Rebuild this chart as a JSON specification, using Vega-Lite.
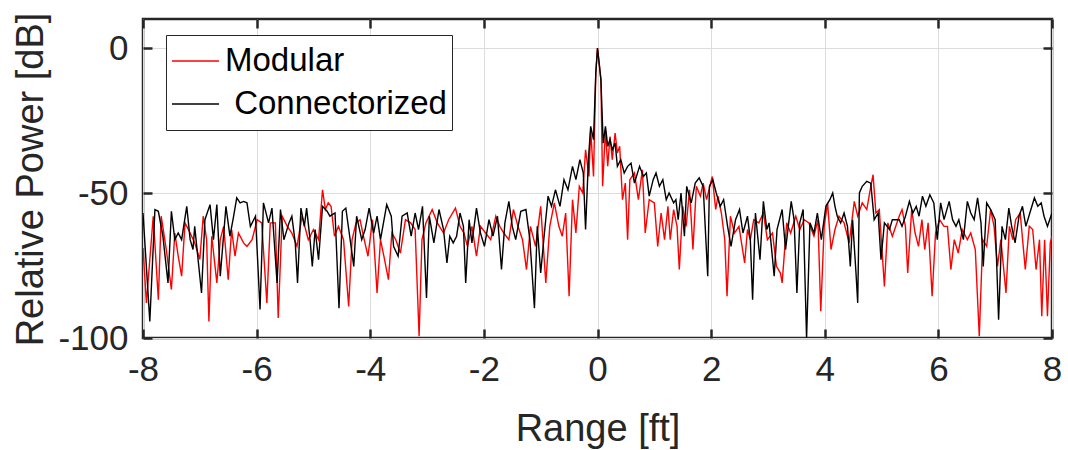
{
 "$schema": "https://vega.github.io/schema/vega-lite/v6.json",
 "width": 909,
 "height": 319,
 "autosize": "none",
 "padding": {"left": 143, "top": 19, "right": 16, "bottom": 112},
 "background": "white",
 "config": {
  "view": {"stroke": "#262626", "strokeWidth": 2.5},
  "font": "Liberation Sans",
  "axis": {"domain": false, "gridColor": "#dcdcdc", "gridWidth": 1, "tickColor": "#262626", "tickWidth": 2.5, "tickSize": -9, "labelColor": "#262626", "titleColor": "#262626", "labelFont": "Liberation Sans", "titleFont": "Liberation Sans", "labelFontSize": 35, "titleFontSize": 38, "titleFontWeight": "normal"}
 },
 "datasets": {
  "spectra": [
   {"series":"Modular","range":-8.00,"power":-69.0},{"series":"Modular","range":-7.94,"power":-87.9},{"series":"Modular","range":-7.82,"power":-58.0},{"series":"Modular","range":-7.73,"power":-86.8},{"series":"Modular","range":-7.68,"power":-58.0},{"series":"Modular","range":-7.59,"power":-69.5},{"series":"Modular","range":-7.50,"power":-83.3},{"series":"Modular","range":-7.44,"power":-63.8},{"series":"Modular","range":-7.38,"power":-71.8},{"series":"Modular","range":-7.32,"power":-78.7},{"series":"Modular","range":-7.26,"power":-60.3},{"series":"Modular","range":-7.17,"power":-63.8},{"series":"Modular","range":-7.09,"power":-67.2},{"series":"Modular","range":-7.00,"power":-72.9},{"series":"Modular","range":-6.94,"power":-58.0},{"series":"Modular","range":-6.88,"power":-66.1},{"series":"Modular","range":-6.84,"power":-94.3},{"series":"Modular","range":-6.79,"power":-64.9},{"series":"Modular","range":-6.70,"power":-81.0},{"series":"Modular","range":-6.64,"power":-66.1},{"series":"Modular","range":-6.58,"power":-61.5},{"series":"Modular","range":-6.50,"power":-79.9},{"series":"Modular","range":-6.44,"power":-62.6},{"series":"Modular","range":-6.38,"power":-71.8},{"series":"Modular","range":-6.32,"power":-63.8},{"series":"Modular","range":-6.23,"power":-67.2},{"series":"Modular","range":-6.17,"power":-68.4},{"series":"Modular","range":-6.08,"power":-66.1},{"series":"Modular","range":-5.99,"power":-59.2},{"series":"Modular","range":-5.91,"power":-60.3},{"series":"Modular","range":-5.82,"power":-87.9},{"series":"Modular","range":-5.76,"power":-60.3},{"series":"Modular","range":-5.67,"power":-60.3},{"series":"Modular","range":-5.62,"power":-93.1},{"series":"Modular","range":-5.55,"power":-58.0},{"series":"Modular","range":-5.46,"power":-61.5},
   {"series":"Modular","range":-5.38,"power":-63.8},{"series":"Modular","range":-5.29,"power":-68.4},{"series":"Modular","range":-5.20,"power":-58.0},{"series":"Modular","range":-5.09,"power":-66.1},{"series":"Modular","range":-5.00,"power":-62.6},{"series":"Modular","range":-4.91,"power":-66.1},{"series":"Modular","range":-4.84,"power":-48.9},{"series":"Modular","range":-4.79,"power":-55.7},{"series":"Modular","range":-4.74,"power":-53.4},{"series":"Modular","range":-4.69,"power":-54.6},{"series":"Modular","range":-4.63,"power":-64.9},{"series":"Modular","range":-4.56,"power":-61.5},{"series":"Modular","range":-4.47,"power":-66.1},{"series":"Modular","range":-4.38,"power":-89.1},{"series":"Modular","range":-4.32,"power":-66.1},{"series":"Modular","range":-4.25,"power":-60.3},{"series":"Modular","range":-4.18,"power":-59.2},{"series":"Modular","range":-4.12,"power":-64.9},{"series":"Modular","range":-4.04,"power":-71.8},{"series":"Modular","range":-3.96,"power":-59.2},{"series":"Modular","range":-3.88,"power":-84.5},{"series":"Modular","range":-3.82,"power":-66.1},{"series":"Modular","range":-3.76,"power":-71.8},{"series":"Modular","range":-3.68,"power":-79.9},{"series":"Modular","range":-3.62,"power":-63.8},{"series":"Modular","range":-3.55,"power":-66.1},{"series":"Modular","range":-3.47,"power":-70.7},{"series":"Modular","range":-3.38,"power":-59.2},{"series":"Modular","range":-3.29,"power":-60.3},{"series":"Modular","range":-3.21,"power":-62.6},{"series":"Modular","range":-3.14,"power":-99.4},{"series":"Modular","range":-3.09,"power":-66.1},{"series":"Modular","range":-3.02,"power":-60.3},{"series":"Modular","range":-2.91,"power":-55.7},{"series":"Modular","range":-2.82,"power":-60.3},
   {"series":"Modular","range":-2.71,"power":-63.8},{"series":"Modular","range":-2.62,"power":-59.2},{"series":"Modular","range":-2.50,"power":-55.2},{"series":"Modular","range":-2.42,"power":-61.5},{"series":"Modular","range":-2.35,"power":-63.8},{"series":"Modular","range":-2.29,"power":-68.4},{"series":"Modular","range":-2.21,"power":-61.5},{"series":"Modular","range":-2.13,"power":-71.8},{"series":"Modular","range":-2.06,"power":-61.5},{"series":"Modular","range":-1.97,"power":-63.8},{"series":"Modular","range":-1.88,"power":-66.1},{"series":"Modular","range":-1.79,"power":-58.0},{"series":"Modular","range":-1.72,"power":-61.5},{"series":"Modular","range":-1.65,"power":-63.8},{"series":"Modular","range":-1.56,"power":-66.1},{"series":"Modular","range":-1.48,"power":-55.7},{"series":"Modular","range":-1.40,"power":-61.5},{"series":"Modular","range":-1.32,"power":-66.1},{"series":"Modular","range":-1.25,"power":-76.4},{"series":"Modular","range":-1.18,"power":-61.5},{"series":"Modular","range":-1.09,"power":-68.4},{"series":"Modular","range":-1.00,"power":-54.6},{"series":"Modular","range":-0.91,"power":-81.0},{"series":"Modular","range":-0.84,"power":-61.5},{"series":"Modular","range":-0.76,"power":-53.4},{"series":"Modular","range":-0.68,"power":-61.5},{"series":"Modular","range":-0.62,"power":-64.9},{"series":"Modular","range":-0.56,"power":-56.9},{"series":"Modular","range":-0.50,"power":-85.6},{"series":"Modular","range":-0.44,"power":-52.3},{"series":"Modular","range":-0.38,"power":-63.8},{"series":"Modular","range":-0.32,"power":-47.7},{"series":"Modular","range":-0.26,"power":-50.0},{"series":"Modular","range":-0.21,"power":-35.1},{"series":"Modular","range":-0.15,"power":-44.3},{"series":"Modular","range":-0.12,"power":-28.2},{"series":"Modular","range":-0.07,"power":-44.3},{"series":"Modular","range":-0.03,"power":-8.6},
   {"series":"Modular","range":0.00,"power":0.0},{"series":"Modular","range":0.06,"power":-10.9},{"series":"Modular","range":0.09,"power":-47.7},{"series":"Modular","range":0.14,"power":-28.2},{"series":"Modular","range":0.18,"power":-40.8},{"series":"Modular","range":0.22,"power":-30.5},{"series":"Modular","range":0.26,"power":-38.5},{"series":"Modular","range":0.31,"power":-29.3},{"series":"Modular","range":0.35,"power":-36.2},{"series":"Modular","range":0.39,"power":-33.9},{"series":"Modular","range":0.44,"power":-52.3},{"series":"Modular","range":0.49,"power":-46.6},{"series":"Modular","range":0.53,"power":-66.1},{"series":"Modular","range":0.57,"power":-45.4},{"series":"Modular","range":0.65,"power":-43.1},{"series":"Modular","range":0.72,"power":-52.3},{"series":"Modular","range":0.79,"power":-42.0},{"series":"Modular","range":0.84,"power":-63.8},{"series":"Modular","range":0.91,"power":-52.3},{"series":"Modular","range":1.00,"power":-53.4},{"series":"Modular","range":1.06,"power":-68.4},{"series":"Modular","range":1.12,"power":-56.9},{"series":"Modular","range":1.18,"power":-66.1},{"series":"Modular","range":1.24,"power":-54.6},{"series":"Modular","range":1.28,"power":-66.1},{"series":"Modular","range":1.34,"power":-55.7},{"series":"Modular","range":1.40,"power":-61.5},{"series":"Modular","range":1.44,"power":-76.4},{"series":"Modular","range":1.50,"power":-54.6},{"series":"Modular","range":1.56,"power":-61.5},{"series":"Modular","range":1.62,"power":-48.9},{"series":"Modular","range":1.68,"power":-69.5},{"series":"Modular","range":1.74,"power":-47.7},{"series":"Modular","range":1.81,"power":-51.1},{"series":"Modular","range":1.86,"power":-46.6},{"series":"Modular","range":1.92,"power":-52.3},{"series":"Modular","range":2.02,"power":-44.3},{"series":"Modular","range":2.08,"power":-55.7},{"series":"Modular","range":2.12,"power":-51.1},{"series":"Modular","range":2.18,"power":-56.9},{"series":"Modular","range":2.24,"power":-66.1},{"series":"Modular","range":2.28,"power":-85.6},{"series":"Modular","range":2.34,"power":-58.0},{"series":"Modular","range":2.41,"power":-63.8},{"series":"Modular","range":2.49,"power":-61.5},{"series":"Modular","range":2.59,"power":-74.1},
   {"series":"Modular","range":2.64,"power":-62.6},{"series":"Modular","range":2.69,"power":-66.1},{"series":"Modular","range":2.75,"power":-59.2},{"series":"Modular","range":2.84,"power":-60.3},{"series":"Modular","range":2.92,"power":-56.9},{"series":"Modular","range":2.99,"power":-66.1},{"series":"Modular","range":3.08,"power":-63.8},{"series":"Modular","range":3.15,"power":-75.3},{"series":"Modular","range":3.22,"power":-77.6},{"series":"Modular","range":3.25,"power":-81.0},{"series":"Modular","range":3.33,"power":-60.3},{"series":"Modular","range":3.40,"power":-63.8},{"series":"Modular","range":3.49,"power":-58.0},{"series":"Modular","range":3.56,"power":-62.6},{"series":"Modular","range":3.64,"power":-59.2},{"series":"Modular","range":3.72,"power":-60.3},{"series":"Modular","range":3.81,"power":-64.9},{"series":"Modular","range":3.88,"power":-59.2},{"series":"Modular","range":3.93,"power":-90.8},{"series":"Modular","range":3.99,"power":-61.5},{"series":"Modular","range":4.05,"power":-53.4},{"series":"Modular","range":4.11,"power":-69.5},{"series":"Modular","range":4.18,"power":-62.6},{"series":"Modular","range":4.25,"power":-58.0},{"series":"Modular","range":4.34,"power":-60.3},{"series":"Modular","range":4.43,"power":-67.2},{"series":"Modular","range":4.52,"power":-52.9},{"series":"Modular","range":4.58,"power":-58.0},{"series":"Modular","range":4.66,"power":-53.4},{"series":"Modular","range":4.74,"power":-55.7},{"series":"Modular","range":4.80,"power":-48.9},{"series":"Modular","range":4.85,"power":-43.7},{"series":"Modular","range":4.90,"power":-56.9},{"series":"Modular","range":4.96,"power":-55.7},{"series":"Modular","range":5.05,"power":-82.2},{"series":"Modular","range":5.11,"power":-60.3},{"series":"Modular","range":5.19,"power":-64.9},
   {"series":"Modular","range":5.31,"power":-58.0},{"series":"Modular","range":5.36,"power":-55.7},{"series":"Modular","range":5.42,"power":-61.5},{"series":"Modular","range":5.46,"power":-77.6},{"series":"Modular","range":5.53,"power":-55.7},{"series":"Modular","range":5.59,"power":-63.8},{"series":"Modular","range":5.65,"power":-68.4},{"series":"Modular","range":5.71,"power":-59.2},{"series":"Modular","range":5.76,"power":-69.5},{"series":"Modular","range":5.82,"power":-60.3},{"series":"Modular","range":5.89,"power":-85.6},{"series":"Modular","range":5.95,"power":-63.8},{"series":"Modular","range":6.02,"power":-59.2},{"series":"Modular","range":6.10,"power":-61.5},{"series":"Modular","range":6.16,"power":-61.5},{"series":"Modular","range":6.22,"power":-76.4},{"series":"Modular","range":6.28,"power":-66.1},{"series":"Modular","range":6.35,"power":-70.7},{"series":"Modular","range":6.42,"power":-62.6},{"series":"Modular","range":6.51,"power":-66.1},{"series":"Modular","range":6.57,"power":-63.8},{"series":"Modular","range":6.65,"power":-69.5},{"series":"Modular","range":6.72,"power":-99.4},{"series":"Modular","range":6.78,"power":-66.1},{"series":"Modular","range":6.85,"power":-68.4},{"series":"Modular","range":6.92,"power":-55.7},{"series":"Modular","range":6.98,"power":-61.5},{"series":"Modular","range":7.04,"power":-75.3},{"series":"Modular","range":7.10,"power":-66.1},{"series":"Modular","range":7.19,"power":-84.5},{"series":"Modular","range":7.25,"power":-61.5},{"series":"Modular","range":7.31,"power":-66.1},{"series":"Modular","range":7.36,"power":-59.2},{"series":"Modular","range":7.44,"power":-56.9},{"series":"Modular","range":7.53,"power":-76.4},{"series":"Modular","range":7.60,"power":-61.5},{"series":"Modular","range":7.66,"power":-62.6},{"series":"Modular","range":7.72,"power":-76.4},{"series":"Modular","range":7.78,"power":-66.1},{"series":"Modular","range":7.82,"power":-92.5},{"series":"Modular","range":7.87,"power":-66.1},{"series":"Modular","range":7.92,"power":-92.5},{"series":"Modular","range":7.97,"power":-67.2},{"series":"Modular","range":8.00,"power":-64.9},
   {"series":"Connectorized","range":-8.00,"power":-56.9},{"series":"Connectorized","range":-7.88,"power":-94.3},{"series":"Connectorized","range":-7.79,"power":-55.7},{"series":"Connectorized","range":-7.73,"power":-56.3},{"series":"Connectorized","range":-7.65,"power":-64.9},{"series":"Connectorized","range":-7.56,"power":-81.0},{"series":"Connectorized","range":-7.50,"power":-56.3},{"series":"Connectorized","range":-7.44,"power":-66.1},{"series":"Connectorized","range":-7.38,"power":-63.8},{"series":"Connectorized","range":-7.32,"power":-66.1},{"series":"Connectorized","range":-7.23,"power":-54.6},{"series":"Connectorized","range":-7.17,"power":-66.1},{"series":"Connectorized","range":-7.12,"power":-69.5},{"series":"Connectorized","range":-7.09,"power":-61.5},{"series":"Connectorized","range":-6.97,"power":-84.5},{"series":"Connectorized","range":-6.91,"power":-59.2},{"series":"Connectorized","range":-6.82,"power":-54.0},{"series":"Connectorized","range":-6.76,"power":-66.1},{"series":"Connectorized","range":-6.70,"power":-54.0},{"series":"Connectorized","range":-6.64,"power":-78.7},{"series":"Connectorized","range":-6.54,"power":-54.6},{"series":"Connectorized","range":-6.47,"power":-64.9},{"series":"Connectorized","range":-6.41,"power":-58.6},{"series":"Connectorized","range":-6.35,"power":-51.7},{"series":"Connectorized","range":-6.29,"power":-53.4},{"series":"Connectorized","range":-6.23,"power":-52.9},{"series":"Connectorized","range":-6.17,"power":-53.4},{"series":"Connectorized","range":-6.11,"power":-61.5},{"series":"Connectorized","range":-6.02,"power":-58.0},{"series":"Connectorized","range":-5.94,"power":-90.2},{"series":"Connectorized","range":-5.88,"power":-53.4},{"series":"Connectorized","range":-5.79,"power":-60.3},{"series":"Connectorized","range":-5.73,"power":-55.2},{"series":"Connectorized","range":-5.64,"power":-81.0},{"series":"Connectorized","range":-5.58,"power":-55.7},{"series":"Connectorized","range":-5.52,"power":-66.1},{"series":"Connectorized","range":-5.43,"power":-60.3},
   {"series":"Connectorized","range":-5.38,"power":-58.0},{"series":"Connectorized","range":-5.32,"power":-67.2},{"series":"Connectorized","range":-5.28,"power":-81.0},{"series":"Connectorized","range":-5.22,"power":-55.2},{"series":"Connectorized","range":-5.16,"power":-61.5},{"series":"Connectorized","range":-5.12,"power":-55.2},{"series":"Connectorized","range":-5.06,"power":-66.1},{"series":"Connectorized","range":-5.02,"power":-75.3},{"series":"Connectorized","range":-4.97,"power":-62.6},{"series":"Connectorized","range":-4.91,"power":-73.0},{"series":"Connectorized","range":-4.84,"power":-54.6},{"series":"Connectorized","range":-4.76,"power":-56.3},{"series":"Connectorized","range":-4.71,"power":-58.0},{"series":"Connectorized","range":-4.62,"power":-56.9},{"series":"Connectorized","range":-4.55,"power":-89.7},{"series":"Connectorized","range":-4.49,"power":-56.3},{"series":"Connectorized","range":-4.43,"power":-55.2},{"series":"Connectorized","range":-4.37,"power":-63.8},{"series":"Connectorized","range":-4.29,"power":-75.3},{"series":"Connectorized","range":-4.24,"power":-58.0},{"series":"Connectorized","range":-4.15,"power":-66.1},{"series":"Connectorized","range":-4.09,"power":-62.6},{"series":"Connectorized","range":-4.02,"power":-55.2},{"series":"Connectorized","range":-3.94,"power":-63.8},{"series":"Connectorized","range":-3.88,"power":-58.0},{"series":"Connectorized","range":-3.82,"power":-66.1},{"series":"Connectorized","range":-3.71,"power":-54.0},{"series":"Connectorized","range":-3.63,"power":-58.0},{"series":"Connectorized","range":-3.59,"power":-68.4},{"series":"Connectorized","range":-3.51,"power":-71.8},{"series":"Connectorized","range":-3.44,"power":-58.0},{"series":"Connectorized","range":-3.35,"power":-56.9},{"series":"Connectorized","range":-3.28,"power":-64.9},{"series":"Connectorized","range":-3.21,"power":-56.9},{"series":"Connectorized","range":-3.15,"power":-62.6},{"series":"Connectorized","range":-3.08,"power":-54.6},{"series":"Connectorized","range":-3.01,"power":-86.2},{"series":"Connectorized","range":-2.96,"power":-58.0},{"series":"Connectorized","range":-2.88,"power":-67.2},{"series":"Connectorized","range":-2.79,"power":-55.7},
   {"series":"Connectorized","range":-2.71,"power":-62.6},{"series":"Connectorized","range":-2.65,"power":-74.1},{"series":"Connectorized","range":-2.60,"power":-64.9},{"series":"Connectorized","range":-2.54,"power":-67.2},{"series":"Connectorized","range":-2.48,"power":-64.9},{"series":"Connectorized","range":-2.42,"power":-56.9},{"series":"Connectorized","range":-2.36,"power":-61.5},{"series":"Connectorized","range":-2.32,"power":-81.0},{"series":"Connectorized","range":-2.26,"power":-59.2},{"series":"Connectorized","range":-2.21,"power":-67.2},{"series":"Connectorized","range":-2.13,"power":-55.2},{"series":"Connectorized","range":-2.06,"power":-63.8},{"series":"Connectorized","range":-1.99,"power":-68.4},{"series":"Connectorized","range":-1.91,"power":-59.2},{"series":"Connectorized","range":-1.84,"power":-64.9},{"series":"Connectorized","range":-1.76,"power":-58.0},{"series":"Connectorized","range":-1.69,"power":-76.4},{"series":"Connectorized","range":-1.63,"power":-60.3},{"series":"Connectorized","range":-1.56,"power":-52.9},{"series":"Connectorized","range":-1.50,"power":-61.5},{"series":"Connectorized","range":-1.44,"power":-66.1},{"series":"Connectorized","range":-1.35,"power":-56.3},{"series":"Connectorized","range":-1.26,"power":-55.7},{"series":"Connectorized","range":-1.19,"power":-66.1},{"series":"Connectorized","range":-1.11,"power":-89.7},{"series":"Connectorized","range":-1.06,"power":-61.5},{"series":"Connectorized","range":-1.00,"power":-77.6},{"series":"Connectorized","range":-0.94,"power":-64.9},{"series":"Connectorized","range":-0.87,"power":-51.1},{"series":"Connectorized","range":-0.81,"power":-54.6},{"series":"Connectorized","range":-0.74,"power":-48.9},{"series":"Connectorized","range":-0.66,"power":-54.6},{"series":"Connectorized","range":-0.59,"power":-45.4},{"series":"Connectorized","range":-0.52,"power":-48.9},{"series":"Connectorized","range":-0.44,"power":-40.8},{"series":"Connectorized","range":-0.38,"power":-45.4},{"series":"Connectorized","range":-0.31,"power":-38.5},{"series":"Connectorized","range":-0.25,"power":-43.1},{"series":"Connectorized","range":-0.21,"power":-62.6},{"series":"Connectorized","range":-0.16,"power":-38.5},{"series":"Connectorized","range":-0.12,"power":-27.0},{"series":"Connectorized","range":-0.07,"power":-31.6},{"series":"Connectorized","range":-0.03,"power":-8.6},
   {"series":"Connectorized","range":0.00,"power":0.0},{"series":"Connectorized","range":0.06,"power":-10.9},{"series":"Connectorized","range":0.10,"power":-32.8},{"series":"Connectorized","range":0.14,"power":-27.0},{"series":"Connectorized","range":0.18,"power":-33.9},{"series":"Connectorized","range":0.22,"power":-31.6},{"series":"Connectorized","range":0.26,"power":-35.1},{"series":"Connectorized","range":0.31,"power":-32.8},{"series":"Connectorized","range":0.35,"power":-40.8},{"series":"Connectorized","range":0.41,"power":-38.5},{"series":"Connectorized","range":0.47,"power":-43.1},{"series":"Connectorized","range":0.53,"power":-40.8},{"series":"Connectorized","range":0.59,"power":-39.7},{"series":"Connectorized","range":0.65,"power":-46.6},{"series":"Connectorized","range":0.74,"power":-40.8},{"series":"Connectorized","range":0.81,"power":-44.3},{"series":"Connectorized","range":0.86,"power":-43.1},{"series":"Connectorized","range":0.91,"power":-51.1},{"series":"Connectorized","range":0.98,"power":-45.4},{"series":"Connectorized","range":1.03,"power":-43.1},{"series":"Connectorized","range":1.09,"power":-47.7},{"series":"Connectorized","range":1.15,"power":-45.4},{"series":"Connectorized","range":1.21,"power":-52.3},{"series":"Connectorized","range":1.26,"power":-50.0},{"series":"Connectorized","range":1.34,"power":-53.4},{"series":"Connectorized","range":1.38,"power":-52.3},{"series":"Connectorized","range":1.42,"power":-59.2},{"series":"Connectorized","range":1.47,"power":-50.0},{"series":"Connectorized","range":1.53,"power":-64.9},{"series":"Connectorized","range":1.57,"power":-47.7},{"series":"Connectorized","range":1.65,"power":-53.4},{"series":"Connectorized","range":1.72,"power":-46.6},{"series":"Connectorized","range":1.79,"power":-44.8},{"series":"Connectorized","range":1.86,"power":-47.7},{"series":"Connectorized","range":1.94,"power":-78.7},{"series":"Connectorized","range":1.97,"power":-47.7},{"series":"Connectorized","range":2.03,"power":-45.4},{"series":"Connectorized","range":2.09,"power":-50.0},{"series":"Connectorized","range":2.16,"power":-54.6},{"series":"Connectorized","range":2.22,"power":-52.3},{"series":"Connectorized","range":2.29,"power":-61.5},{"series":"Connectorized","range":2.35,"power":-68.4},{"series":"Connectorized","range":2.43,"power":-59.2},{"series":"Connectorized","range":2.50,"power":-55.7},{"series":"Connectorized","range":2.56,"power":-63.8},
   {"series":"Connectorized","range":2.64,"power":-58.0},{"series":"Connectorized","range":2.69,"power":-66.1},{"series":"Connectorized","range":2.73,"power":-86.8},{"series":"Connectorized","range":2.78,"power":-56.9},{"series":"Connectorized","range":2.86,"power":-73.0},{"series":"Connectorized","range":2.92,"power":-52.9},{"series":"Connectorized","range":2.98,"power":-62.6},{"series":"Connectorized","range":3.02,"power":-60.3},{"series":"Connectorized","range":3.06,"power":-68.4},{"series":"Connectorized","range":3.11,"power":-78.7},{"series":"Connectorized","range":3.16,"power":-62.6},{"series":"Connectorized","range":3.25,"power":-55.7},{"series":"Connectorized","range":3.31,"power":-69.5},{"series":"Connectorized","range":3.41,"power":-52.9},{"series":"Connectorized","range":3.46,"power":-59.2},{"series":"Connectorized","range":3.51,"power":-84.5},{"series":"Connectorized","range":3.56,"power":-60.3},{"series":"Connectorized","range":3.62,"power":-55.7},{"series":"Connectorized","range":3.68,"power":-100.0},{"series":"Connectorized","range":3.74,"power":-60.3},{"series":"Connectorized","range":3.81,"power":-63.8},{"series":"Connectorized","range":3.87,"power":-56.9},{"series":"Connectorized","range":3.94,"power":-66.1},{"series":"Connectorized","range":4.02,"power":-54.6},{"series":"Connectorized","range":4.09,"power":-52.3},{"series":"Connectorized","range":4.14,"power":-50.0},{"series":"Connectorized","range":4.18,"power":-54.6},{"series":"Connectorized","range":4.22,"power":-58.0},{"series":"Connectorized","range":4.28,"power":-60.3},{"series":"Connectorized","range":4.34,"power":-56.9},{"series":"Connectorized","range":4.40,"power":-61.5},{"series":"Connectorized","range":4.45,"power":-75.3},{"series":"Connectorized","range":4.49,"power":-59.2},{"series":"Connectorized","range":4.55,"power":-77.6},{"series":"Connectorized","range":4.58,"power":-87.9},{"series":"Connectorized","range":4.61,"power":-50.0},{"series":"Connectorized","range":4.66,"power":-47.7},{"series":"Connectorized","range":4.74,"power":-46.0},{"series":"Connectorized","range":4.81,"power":-46.6},{"series":"Connectorized","range":4.87,"power":-59.2},{"series":"Connectorized","range":4.94,"power":-56.9},{"series":"Connectorized","range":4.99,"power":-73.0},{"series":"Connectorized","range":5.05,"power":-60.3},{"series":"Connectorized","range":5.14,"power":-62.6},{"series":"Connectorized","range":5.19,"power":-59.2},
   {"series":"Connectorized","range":5.31,"power":-59.2},{"series":"Connectorized","range":5.36,"power":-61.5},{"series":"Connectorized","range":5.42,"power":-58.0},{"series":"Connectorized","range":5.49,"power":-52.9},{"series":"Connectorized","range":5.55,"power":-56.9},{"series":"Connectorized","range":5.61,"power":-54.6},{"series":"Connectorized","range":5.66,"power":-58.0},{"series":"Connectorized","range":5.72,"power":-51.1},{"series":"Connectorized","range":5.78,"power":-54.6},{"series":"Connectorized","range":5.85,"power":-50.6},{"series":"Connectorized","range":5.92,"power":-53.4},{"series":"Connectorized","range":5.98,"power":-66.1},{"series":"Connectorized","range":6.04,"power":-53.4},{"series":"Connectorized","range":6.10,"power":-59.2},{"series":"Connectorized","range":6.19,"power":-52.9},{"series":"Connectorized","range":6.25,"power":-59.2},{"series":"Connectorized","range":6.31,"power":-61.5},{"series":"Connectorized","range":6.36,"power":-59.2},{"series":"Connectorized","range":6.44,"power":-66.1},{"series":"Connectorized","range":6.51,"power":-52.9},{"series":"Connectorized","range":6.57,"power":-56.9},{"series":"Connectorized","range":6.63,"power":-59.2},{"series":"Connectorized","range":6.69,"power":-51.7},{"series":"Connectorized","range":6.75,"power":-60.3},{"series":"Connectorized","range":6.79,"power":-75.3},{"series":"Connectorized","range":6.85,"power":-53.4},{"series":"Connectorized","range":6.92,"power":-55.7},{"series":"Connectorized","range":7.00,"power":-59.2},{"series":"Connectorized","range":7.06,"power":-93.7},{"series":"Connectorized","range":7.12,"power":-61.5},{"series":"Connectorized","range":7.18,"power":-66.1},{"series":"Connectorized","range":7.24,"power":-55.2},{"series":"Connectorized","range":7.29,"power":-61.5},{"series":"Connectorized","range":7.35,"power":-67.2},{"series":"Connectorized","range":7.42,"power":-58.0},{"series":"Connectorized","range":7.48,"power":-54.6},{"series":"Connectorized","range":7.54,"power":-61.5},{"series":"Connectorized","range":7.61,"power":-56.9},{"series":"Connectorized","range":7.69,"power":-51.7},{"series":"Connectorized","range":7.75,"power":-54.6},{"series":"Connectorized","range":7.81,"power":-53.4},{"series":"Connectorized","range":7.86,"power":-58.0},{"series":"Connectorized","range":7.92,"power":-61.5},{"series":"Connectorized","range":8.00,"power":-56.9}
  ]
 },
 "data": {"name": "spectra"},
 "layer": [
  {
   "transform": [{"filter": "datum.series === 'Modular'"}],
   "mark": {"type": "line", "strokeWidth": 1.4, "clip": true},
   "encoding": {
    "x": {"field": "range", "type": "quantitative", "scale": {"domain": [-8, 8], "nice": false, "zero": false},
          "axis": {"orient": "bottom", "values": [-8, -6, -4, -2, 0, 2, 4, 6, 8], "grid": true, "title": "Range [ft]", "labelPadding": 23, "labelFlush": false, "titleY": 102, "titleBaseline": "alphabetic",
                   "labelExpr": "datum.value < 0 ? '-' + abs(datum.value) : '' + datum.value"}},
    "y": {"field": "power", "type": "quantitative", "scale": {"domain": [-100, 10], "nice": false, "zero": false},
          "axis": {"orient": "left", "values": [-100, -50, 0], "grid": true, "title": "Relative Power [dB]", "labelPadding": 24, "titleX": -112, "titleY": 160, "titleBaseline": "middle",
                   "labelExpr": "datum.value < 0 ? '-' + abs(datum.value) : '' + datum.value"}},
    "color": {"field": "series", "type": "nominal",
              "scale": {"domain": ["Modular", "Connectorized"], "range": ["#ff0000", "#000000"]},
              "legend": {"orient": "none", "legendX": 23, "legendY": 16, "direction": "vertical", "title": null,
                         "symbolType": "stroke", "symbolSize": 2209, "symbolStrokeWidth": 1.3,
                         "labelFontSize": 33, "labelFont": "Liberation Sans", "labelColor": "#000000", "labelOffset": 5, "labelLimit": 400,
                         "clipHeight": 42, "rowPadding": 1, "padding": 5,
                         "fillColor": "#ffffff", "strokeColor": "#262626", "cornerRadius": 0,
                         "labelExpr": "datum.label == 'Connectorized' ? '\u200b\u00a0Connectorized' : datum.label"}}
   }
  },
  {
   "transform": [{"filter": "datum.series === 'Connectorized'"}],
   "mark": {"type": "line", "strokeWidth": 1.4, "clip": true},
   "encoding": {
    "x": {"field": "range", "type": "quantitative",
          "axis": {"orient": "top", "values": [-8, -6, -4, -2, 0, 2, 4, 6, 8], "grid": false, "labels": false, "title": null}},
    "y": {"field": "power", "type": "quantitative",
          "axis": {"orient": "right", "values": [-100, -50, 0], "grid": false, "labels": false, "title": null}},
    "color": {"field": "series", "type": "nominal"}
   }
  }
 ],
 "resolve": {"axis": {"x": "independent", "y": "independent"}}
}
